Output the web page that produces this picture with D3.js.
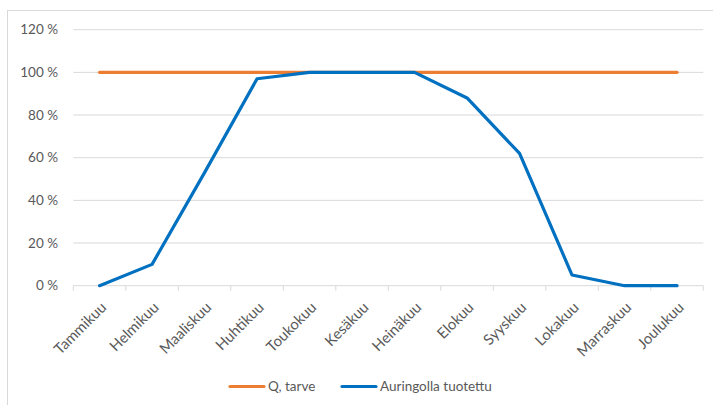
<!DOCTYPE html>
<html>
<head>
<meta charset="utf-8">
<script src="https://cdn.jsdelivr.net/npm/d3@7/dist/d3.min.js"></script>
<style>
  html, body { margin: 0; padding: 0; background: #fff; }
  svg text { font-family: Lato, "Liberation Sans", sans-serif; fill: #595959; }
</style>
</head>
<body>
<svg id="chart" width="713" height="405"></svg>
<script>
// Months (Finnish)
const months = ["Tammikuu", "Helmikuu", "Maaliskuu", "Huhtikuu", "Toukokuu", "Kesäkuu",
                "Heinäkuu", "Elokuu", "Syyskuu", "Lokakuu", "Marraskuu", "Joulukuu"];
// Demand share (%)
const tarve = [100, 100, 100, 100, 100, 100, 100, 100, 100, 100, 100, 100];
// Share produced by solar (%)
const aurinko = [0, 10, 53, 97, 100, 100, 100, 88, 62, 5, 0, 0];
// Y axis ticks
const yTicks = [0, 20, 40, 60, 80, 100, 120];

const seriesNames = ["Q, tarve", "Auringolla tuotettu"];
const seriesColors = ["#ED7D31", "#0070C0"];

const fontSize = 13.5;
const monthFontSize = 14.8;
const svg = d3.select("#chart");

// Outer chart frame
svg.append("rect")
  .attr("x", 7.5).attr("y", 10.5)
  .attr("width", 720).attr("height", 420)
  .attr("fill", "none").attr("stroke", "#D9D9D9").attr("stroke-width", 1);

const plotLeft = 73.3, plotRight = 703.3, plotTop = 29.7, plotBottom = 285.7;

const x = d3.scaleBand().domain(months).range([plotLeft, plotRight]);
const y = d3.scaleLinear().domain([0, 120]).range([plotBottom, plotTop]);

// Horizontal gridlines
svg.append("g")
  .selectAll("line")
  .data(yTicks)
  .join("line")
  .attr("x1", plotLeft).attr("x2", plotRight)
  .attr("y1", d => y(d)).attr("y2", d => y(d))
  .attr("stroke", "#D9D9D9").attr("stroke-width", 1);

// Y axis labels
svg.append("g")
  .selectAll("text")
  .data(yTicks)
  .join("text")
  .attr("x", 58)
  .attr("y", d => y(d))
  .attr("dy", "0.35em")
  .attr("text-anchor", "end")
  .attr("font-size", fontSize)
  .text(d => d + " %");

// Category tick marks at band boundaries
const bounds = months.map(m => x(m)).concat([plotRight]);
svg.append("g")
  .selectAll("line")
  .data(bounds)
  .join("line")
  .attr("x1", d => d).attr("x2", d => d)
  .attr("y1", plotBottom).attr("y2", plotBottom + 5)
  .attr("stroke", "#D9D9D9").attr("stroke-width", 1);

// Rotated month labels
svg.append("g")
  .selectAll("text")
  .data(months)
  .join("text")
  .attr("transform", d => `translate(${x(d) + x.bandwidth() / 2 + 4},${plotBottom + 19}) rotate(-45)`)
  .attr("text-anchor", "end")
  .attr("dy", "0.35em")
  .attr("font-size", monthFontSize)
  .text(d => d);

// Series lines
const line = d3.line()
  .x((d, i) => x(months[i]) + x.bandwidth() / 2)
  .y(d => y(d));

[tarve, aurinko].forEach((vals, k) => {
  svg.append("path")
    .datum(vals)
    .attr("d", line)
    .attr("fill", "none")
    .attr("stroke", seriesColors[k])
    .attr("stroke-width", 3.2)
    .attr("stroke-linejoin", "round")
    .attr("stroke-linecap", "round");
});

// Legend
const legendItems = [
  { name: seriesNames[0], color: seriesColors[0], x: 230 },
  { name: seriesNames[1], color: seriesColors[1], x: 342 }
];
const lg = svg.append("g").selectAll("g").data(legendItems).join("g")
  .attr("transform", d => `translate(${d.x},386.5)`);
lg.append("line")
  .attr("x1", 0).attr("x2", 34)
  .attr("stroke", d => d.color).attr("stroke-width", 3.2)
  .attr("stroke-linecap", "round");
lg.append("text")
  .attr("x", 38).attr("dy", "0.35em")
  .attr("font-size", fontSize)
  .text(d => d.name);
</script>
</body>
</html>
